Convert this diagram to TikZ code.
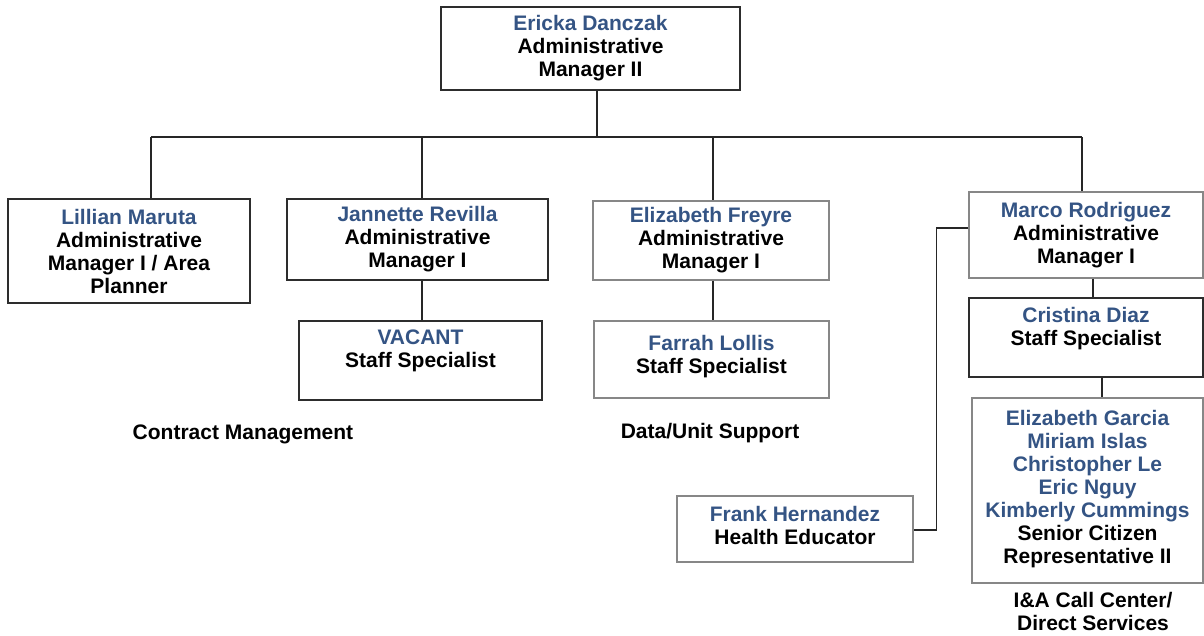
\documentclass[tikz,border=0pt]{standalone}
\usepackage{fontspec}
\setmainfont{Liberation Sans}

\definecolor{namecol}{RGB}{52,84,132}
\definecolor{darkline}{RGB}{45,45,45}
\definecolor{lightline}{RGB}{135,135,135}

\tikzset{
    unitbox/.style={draw=darkline,line width=1.5pt,align=center,inner sep=0pt,
        font=\bfseries\fontsize{21}{23}\selectfont},
    unitlight/.style={unitbox,draw=lightline,line width=1.1pt},
    grouptag/.style={align=center,inner sep=0pt,font=\bfseries\fontsize{21}{23}\selectfont},
    wire/.style={line width=1.4pt,draw=black!85}
}
\newcommand{\who}[1]{\textcolor{namecol}{#1}}

\begin{document}
\begin{tikzpicture}[x=1pt,y=-1pt,line join=miter]
    \useasboundingbox (0,0) rectangle (1204,635);
    %%
    % Node: ericka
    \node[unitbox,minimum width=299pt,minimum height=83pt] (ericka) at (590.5,48.5)
        {\who{Ericka Danczak}\\Administrative\\Manager II};
    % Node: lillian
    \node[unitbox,minimum width=242pt,minimum height=104pt] (lillian) at (129,251)
        {\who{Lillian Maruta}\\Administrative\\Manager I / Area\\Planner};
    % Node: jannette
    \node[unitbox,minimum width=261pt,minimum height=81pt] (jannette) at (417.5,239.5)
        {\who{Jannette Revilla}\\Administrative\\Manager I};
    % Node: vacant
    \node[unitbox,minimum width=243pt,minimum height=79pt] (vacant) at (420.5,360.5)
        {\who{VACANT}\\Staff Specialist\\\mbox{}};
    % Node: freyre
    \node[unitlight,minimum width=236pt,minimum height=79pt] (freyre) at (711,240.5)
        {\who{Elizabeth Freyre}\\Administrative\\Manager I};
    % Node: farrah
    \node[unitlight,minimum width=235pt,minimum height=77pt] (farrah) at (711.5,359.5)
        {\who{Farrah Lollis}\\Staff Specialist\\[-12pt]\mbox{}};
    % Node: marco
    \node[unitlight,minimum width=234pt,minimum height=86pt] (marco) at (1086,235)
        {\who{Marco Rodriguez}\\Administrative\\Manager I};
    % Node: cristina
    \node[unitbox,minimum width=234pt,minimum height=79pt] (cristina) at (1086,337.5)
        {\who{Cristina Diaz}\\Staff Specialist\\\mbox{}};
    % Node: garcia
    \node[unitlight,minimum width=231pt,minimum height=185pt] (garcia) at (1087.5,490.5)
        {\who{Elizabeth Garcia}\\\who{Miriam Islas}\\\who{Christopher Le}\\\who{Eric Nguy}\\
         \who{Kimberly Cummings}\\Senior Citizen\\Representative II\\[-15pt]\mbox{}};
    % Node: frank
    \node[unitlight,minimum width=236pt,minimum height=66pt] (frank) at (795,529)
        {\who{Frank Hernandez}\\Health Educator\\[-16pt]\mbox{}};
    %%
    % Group names
    \node[grouptag] (contract) at (243,434) {Contract Management};
    \node[grouptag] (datasupport) at (710,433) {Data/Unit Support};
    \node[grouptag] (callcenter) at (1093,611) {I\&A Call Center/\\Direct Services};
    %%
    % Bus under ericka
    \coordinate (btop) at (597,137);
    \coordinate (b1) at (151,137);
    \coordinate (b2) at (422,137);
    \coordinate (b3) at (713,137);
    \coordinate (b4) at (1082,137);
    \draw[wire] (b1) -- (b4);
    % Edge: ericka -> bus
    \draw[wire] (btop |- ericka.south) -- (btop);
    % Edge: bus -> lillian, jannette, freyre, marco
    \draw[wire] (b1) -- (b1 |- lillian.north);
    \draw[wire] (b2) -- (b2 |- jannette.north);
    \draw[wire] (b3) -- (b3 |- freyre.north);
    \draw[wire] (b4) -- (b4 |- marco.north);
    % Edge: jannette -> vacant
    \draw[wire] (b2 |- jannette.south) -- (b2 |- vacant.north);
    % Edge: freyre -> farrah
    \draw[wire] (b3 |- freyre.south) -- (b3 |- farrah.north);
    % Edge: marco -> cristina
    \draw[wire] ([xshift=7pt]marco.south) -- ([xshift=7pt]marco.south |- cristina.north);
    % Edge: cristina -> garcia
    \draw[wire] ([xshift=16pt]cristina.south) -- ([xshift=16pt]cristina.south |- garcia.north);
    % Edge: marco -> frank
    \draw[wire] ([yshift=7pt]marco.west) -| ([xshift=23pt,yshift=-1pt]frank.east) -- ([yshift=-1pt]frank.east);
    %
\end{tikzpicture}
\end{document}
